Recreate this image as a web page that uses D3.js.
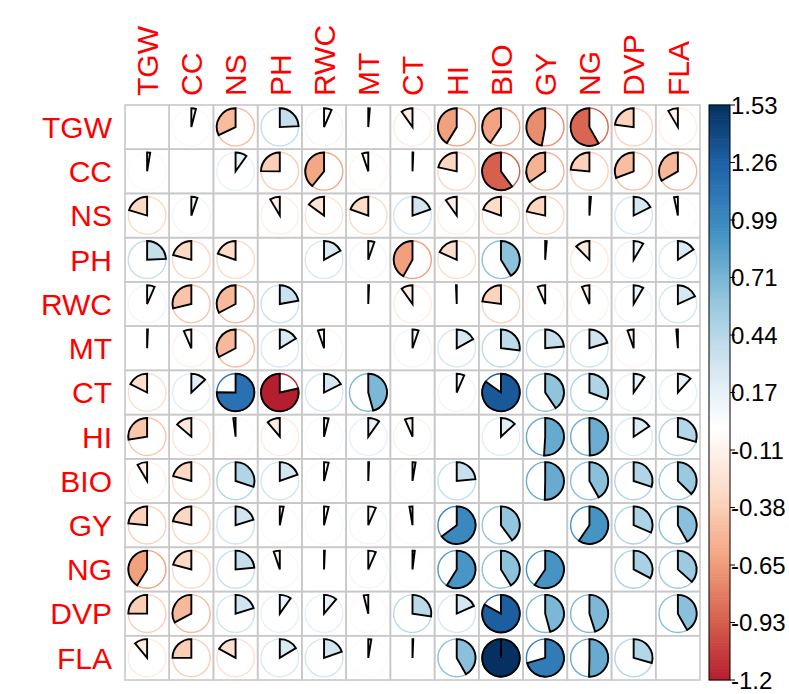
<!DOCTYPE html>
<html>
<head>
<meta charset="utf-8">
<script src="https://cdn.jsdelivr.net/npm/d3@7"></script>
<style>
  body { margin: 0; background: #fff; }
  svg { display: block; }
  text { font-family: "Liberation Sans", Arial, sans-serif; }
</style>
</head>
<body>
<svg id="chart" width="789" height="694"></svg>
<script>
// Trait names, used for both rows and columns
const variables = ["TGW", "CC", "NS", "PH", "RWC", "MT", "CT", "HI", "BIO", "GY", "NG", "DVP", "FLA"];

// Coefficient matrix, one array per row (diagonal left empty)
const rowTGW = [null, 0.06, -0.49, 0.37, 0.10, 0.02, -0.15, -0.63, -0.62, -0.72, -0.89, -0.35, -0.13];
const rowCC  = [0.04, null, 0.15, -0.38, -0.60, -0.08, 0.01, -0.33, -0.92, -0.53, -0.36, -0.47, -0.51];
const rowNS  = [-0.31, 0.08, null, -0.13, -0.23, -0.30, 0.30, -0.15, -0.30, -0.33, 0.02, 0.27, -0.05];
const rowPH  = [0.37, -0.32, -0.30, null, 0.26, 0.08, -0.64, -0.28, 0.63, 0.02, -0.19, 0.13, 0.24];
const rowRWC = [0.10, -0.44, -0.50, 0.34, null, 0.01, -0.15, -0.01, -0.35, -0.10, -0.10, 0.13, 0.28];
const rowMT  = [0.01, -0.10, -0.50, 0.25, -0.08, null, 0.08, 0.26, 0.41, 0.36, 0.31, -0.08, -0.02];
const rowCT  = [-0.27, 0.20, 1.15, -1.20, 0.27, 0.70, null, 0.10, 1.30, 0.62, 0.47, 0.15, 0.18];
const rowHI  = [-0.42, -0.21, -0.03, -0.17, 0.06, 0.15, -0.10, null, 0.20, 0.78, 0.76, 0.24, 0.45];
const rowBIO = [-0.13, -0.32, 0.46, 0.30, 0.06, 0.01, 0.04, 0.36, null, 0.77, 0.64, 0.46, 0.57];
const rowGY  = [-0.36, -0.33, 0.31, 0.05, 0.06, 0.10, -0.04, 0.99, 0.61, null, 0.91, 0.48, 0.64];
const rowNG  = [-0.63, -0.32, 0.36, -0.08, 0.01, 0.10, 0.03, 0.90, 0.63, 0.91, null, 0.50, 0.56];
const rowDVP = [-0.38, -0.50, 0.31, 0.15, 0.17, -0.06, 0.42, 0.28, 1.27, 0.70, 0.69, null, 0.64];
const rowFLA = [-0.17, -0.38, -0.26, 0.25, 0.30, 0.04, 0.01, 0.64, 1.53, 1.08, 0.77, 0.45, null];

const matrixRows = [rowTGW, rowCC, rowNS, rowPH, rowRWC, rowMT, rowCT, rowHI, rowBIO, rowGY, rowNG, rowDVP, rowFLA];

// Colour legend range and its tick labels
const legendLimits = [-1.2, 1.53];
const legendTicks = ["1.53", "1.26", "0.99", "0.71", "0.44", "0.17", "-0.11", "-0.38", "-0.65", "-0.93", "-1.2"];

// Diverging red-white-blue palette
const paletteStops = ["#67001F", "#B2182B", "#D6604D", "#F4A582", "#FDDBC7", "#FFFFFF",
                      "#D1E5F0", "#92C5DE", "#4393C3", "#2166AC", "#053061"];

const svg = d3.select("#chart");

const x = d3.scaleBand().domain(variables).range([125, 700]);
const y = d3.scaleBand().domain(variables).range([105, 680]);
const cell = x.bandwidth();
const radius = cell * 0.425;

// values are scaled by the largest absolute limit to [-1, 1]
const maxAbs = d3.max(legendLimits, Math.abs);
const unit = d3.scaleLinear().domain([-maxAbs, maxAbs]).range([-1, 1]);
const color = d3.scaleLinear()
  .domain(d3.range(11).map(i => -1 + i * 0.2))
  .range(paletteStops)
  .interpolate(d3.interpolateRgb)
  .clamp(true);
const sweep = d3.scaleLinear().domain([-1, 1]).range([-2 * Math.PI, 2 * Math.PI]);

const cells = [];
matrixRows.forEach((row, i) => {
  row.forEach((v, j) => {
    cells.push({ row: variables[i], col: variables[j], value: v });
  });
});

// grid
const grid = svg.append("g");
cells.forEach(d => {
  grid.append("rect")
    .attr("x", x(d.col)).attr("y", y(d.row))
    .attr("width", cell).attr("height", cell)
    .attr("fill", "none")
    .attr("stroke", "#c8c8c8")
    .attr("stroke-width", 1.6);
});

// pies: coloured outline circle plus a wedge swept clockwise (positive)
// or anticlockwise (negative) from twelve o'clock
const pies = svg.append("g");
cells.filter(d => d.value !== null).forEach(d => {
  const cx = x(d.col) + cell / 2;
  const cy = y(d.row) + cell / 2;
  const s = unit(d.value);
  const fill = color(s);
  pies.append("circle")
    .attr("cx", cx).attr("cy", cy).attr("r", radius)
    .attr("fill", "none")
    .attr("stroke", fill)
    .attr("stroke-width", 1.4);
  const theta = sweep(s);
  const p = d3.path();
  const a0 = -Math.PI / 2;
  p.moveTo(cx, cy);
  p.lineTo(cx, cy - radius);
  p.arc(cx, cy, radius, a0, a0 + theta, theta < 0);
  p.closePath();
  pies.append("path")
    .attr("d", p.toString())
    .attr("fill", fill)
    .attr("stroke", "#000")
    .attr("stroke-width", 1.9)
    .attr("stroke-linejoin", "miter");
});

// row labels
svg.append("g").selectAll("text")
  .data(variables)
  .join("text")
  .attr("x", 112)
  .attr("y", d => y(d) + cell / 2)
  .attr("dy", "0.36em")
  .attr("text-anchor", "end")
  .attr("fill", "#ff0000")
  .attr("font-size", 30)
  .text(d => d);

// column labels, rotated
svg.append("g").selectAll("text")
  .data(variables)
  .join("text")
  .attr("transform", d => `translate(${x(d) + cell / 2},96) rotate(-90)`)
  .attr("dy", "0.36em")
  .attr("text-anchor", "start")
  .attr("fill", "#ff0000")
  .attr("font-size", 30)
  .text(d => d);

// colour legend
const barX = 709, barW = 21;
const barY = d3.scaleLinear().domain(legendLimits).range([680, 105]);
const legend = svg.append("g");
const steps = 200;
const vals = d3.range(steps).map(i => legendLimits[0] + (legendLimits[1] - legendLimits[0]) * i / steps);
const stepH = (barY(legendLimits[0]) - barY(legendLimits[1])) / steps;
legend.selectAll("rect.band")
  .data(vals)
  .join("rect")
  .attr("class", "band")
  .attr("x", barX)
  .attr("y", d => barY(d) - stepH - 0.3)
  .attr("width", barW)
  .attr("height", stepH + 0.6)
  .attr("fill", d => color(unit(d + (legendLimits[1] - legendLimits[0]) / steps / 2)));
legend.append("rect")
  .attr("x", barX).attr("y", barY(legendLimits[1]))
  .attr("width", barW).attr("height", barY(legendLimits[0]) - barY(legendLimits[1]))
  .attr("fill", "none").attr("stroke", "#000").attr("stroke-width", 1);

const tickScale = d3.scalePoint().domain(legendTicks).range([105, 680]);
legend.selectAll("line.tick")
  .data(legendTicks)
  .join("line")
  .attr("class", "tick")
  .attr("x1", barX + barW).attr("x2", barX + barW + 5)
  .attr("y1", d => tickScale(d)).attr("y2", d => tickScale(d))
  .attr("stroke", "#000").attr("stroke-width", 1);
legend.selectAll("text")
  .data(legendTicks)
  .join("text")
  .attr("x", barX + barW + 1)
  .attr("y", d => tickScale(d))
  .attr("dy", "0.36em")
  .attr("fill", "#000")
  .attr("font-size", 24)
  .text(d => d);
</script>
</body>
</html>
